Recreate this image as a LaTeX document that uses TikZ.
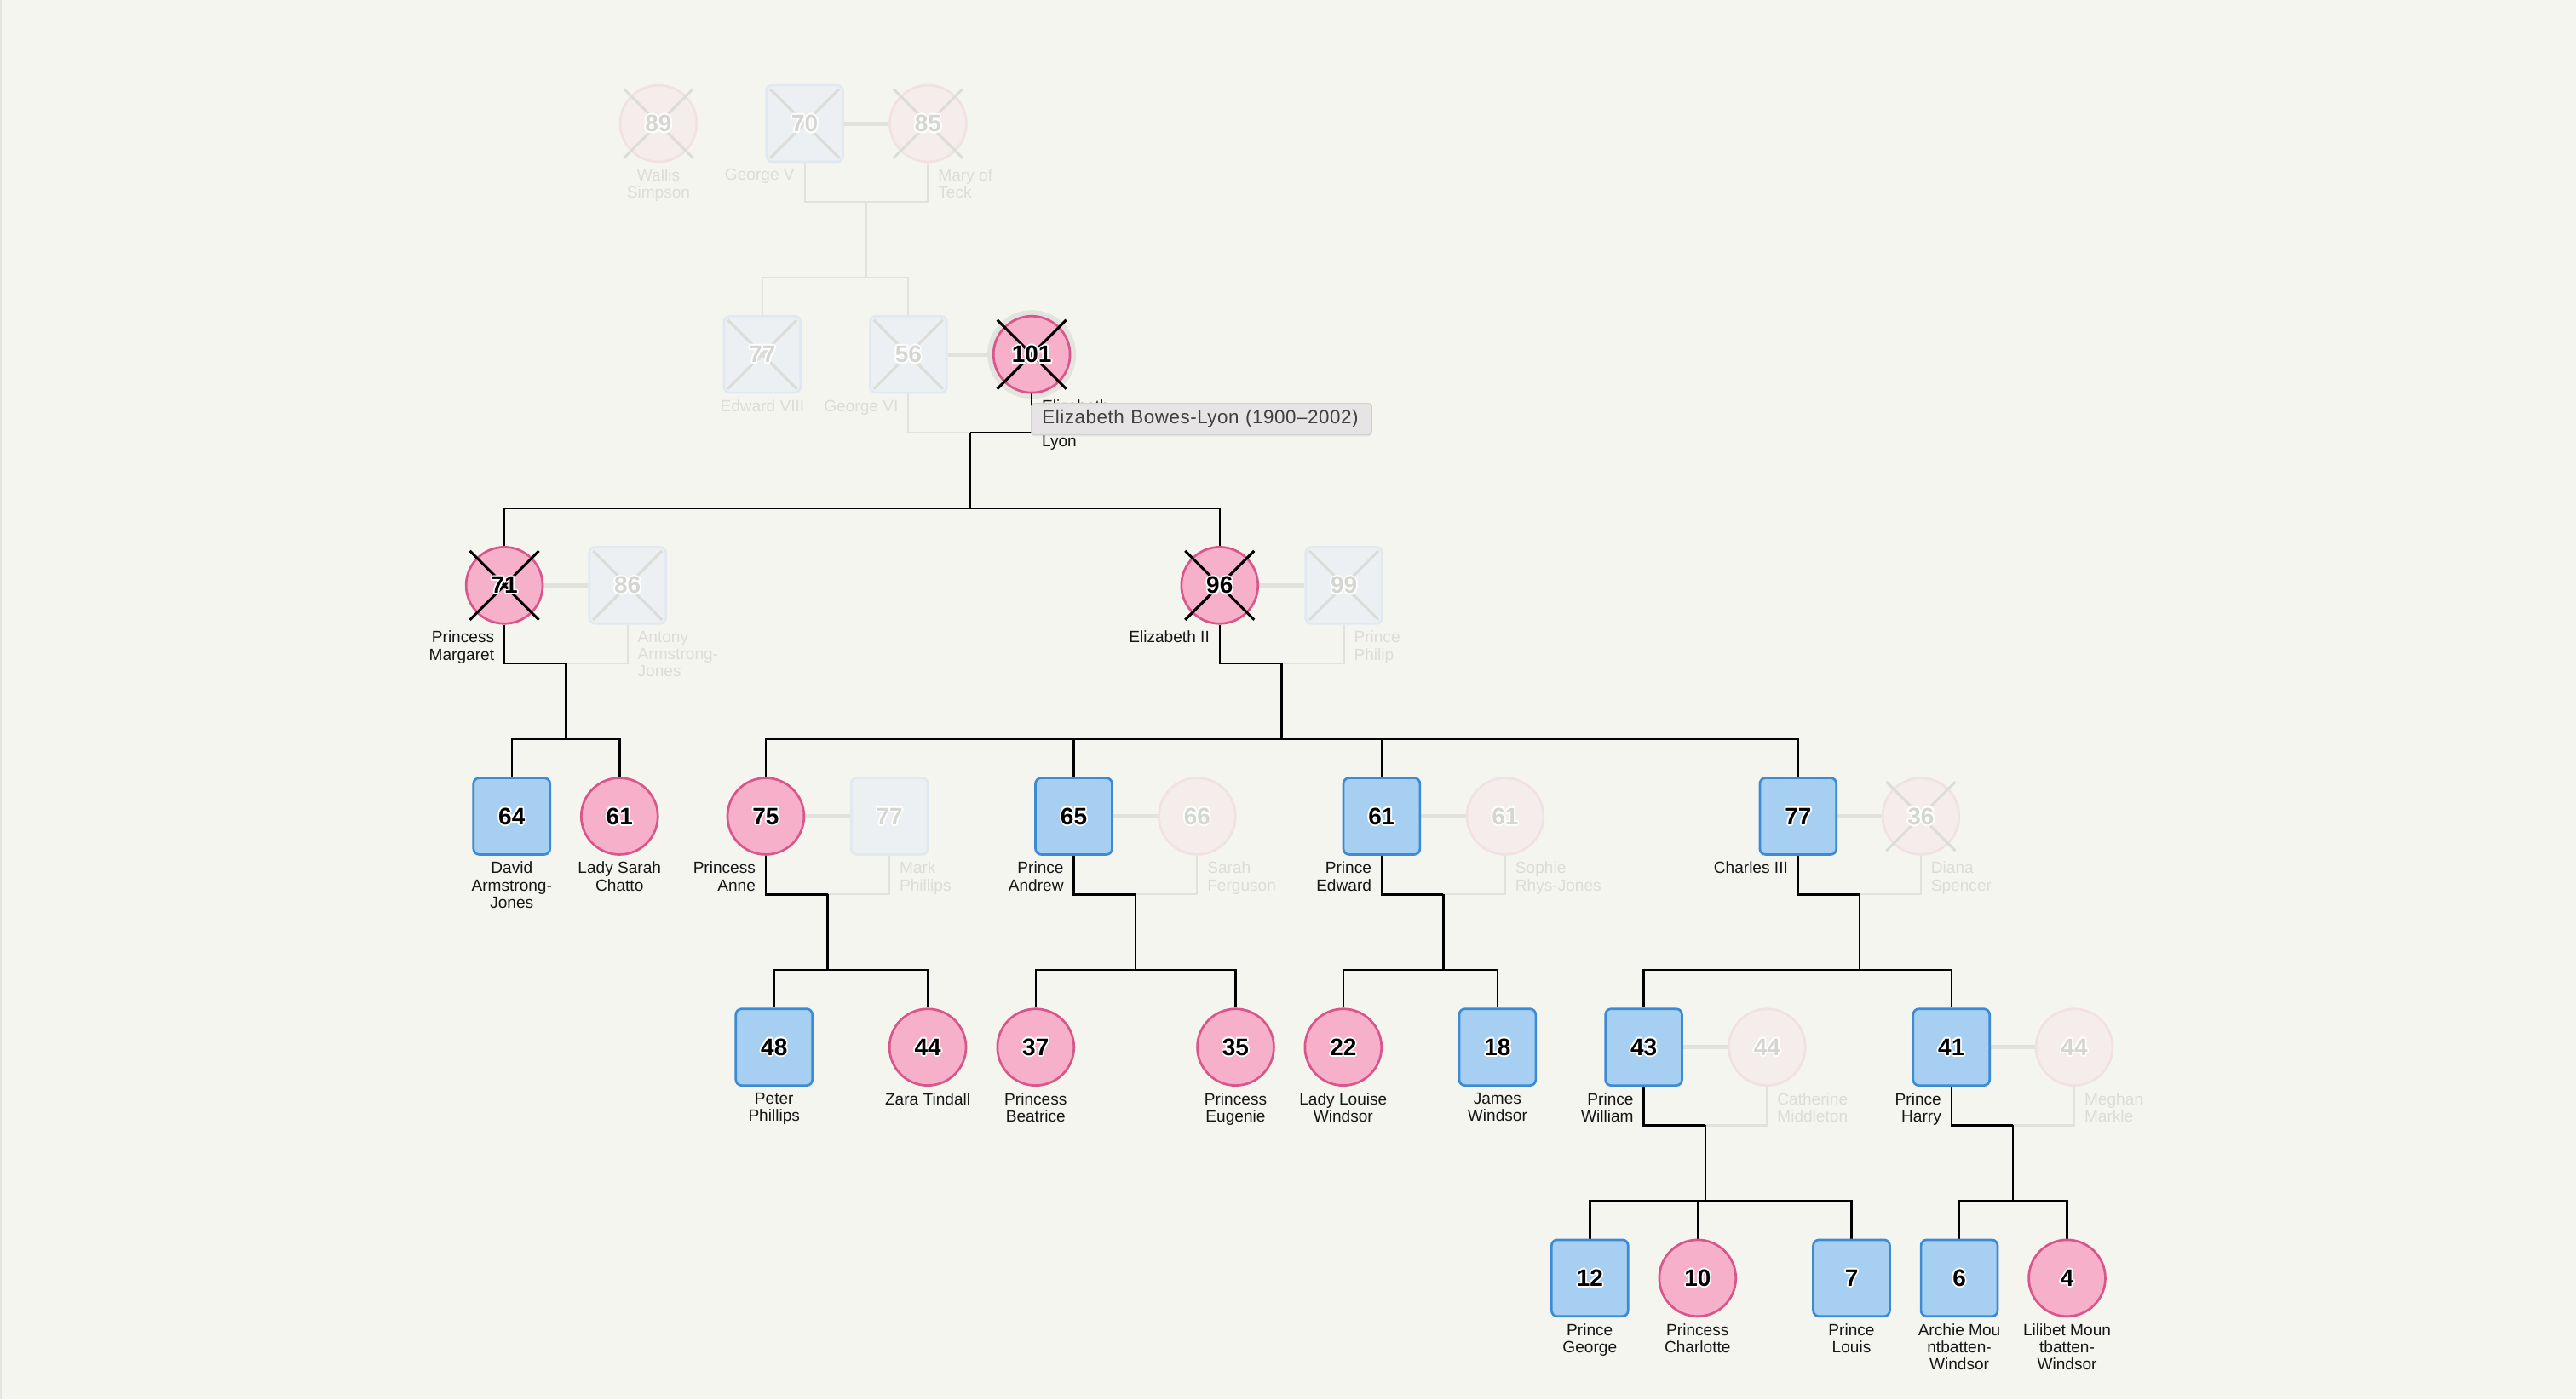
\documentclass[tikz,border=0pt]{standalone}
\usepackage{fontspec}
\setmainfont{Liberation Sans}
\usetikzlibrary{positioning,calc,shadows}
\definecolor{bgcol}{HTML}{F5F5F0}
\definecolor{edgecol}{HTML}{E4E4E0}
\definecolor{pinkfill}{HTML}{F7B0C9}
\definecolor{pinkedge}{HTML}{D9558A}
\definecolor{bluefill}{HTML}{A6CFF1}
\definecolor{blueedge}{HTML}{3D8BD4}
\definecolor{fpinkfill}{HTML}{F5ECEC}
\definecolor{fpinkedge}{HTML}{F1E1E3}
\definecolor{fbluefill}{HTML}{ECF0F2}
\definecolor{fblueedge}{HTML}{E1E9F0}
\definecolor{paleline}{HTML}{E2E2DD}
\definecolor{paletext}{HTML}{DCDCD8}
\definecolor{palenum}{HTML}{D5D5D1}
\definecolor{inkcol}{HTML}{161616}
\definecolor{tipfill}{HTML}{E6E4E4}
\definecolor{tipedge}{HTML}{D2D0D0}
\definecolor{tiptext}{HTML}{404040}
\definecolor{hovercol}{HTML}{E3E3DF}
\pgfdeclarelayer{background}
\pgfsetlayers{background,main}
\newcommand\halo[1]{{\color{white}\rlap{\kern1pt#1}\rlap{\kern-1pt#1}\rlap{\raisebox{1pt}{#1}}\rlap{\raisebox{-1pt}{#1}}\rlap{\kern.7pt\raisebox{.7pt}{#1}}\rlap{\kern-.7pt\raisebox{.7pt}{#1}}\rlap{\kern.7pt\raisebox{-.7pt}{#1}}\rlap{\kern-.7pt\raisebox{-.7pt}{#1}}}#1}

\begin{document}
\begin{tikzpicture}[x=1pt,y=-1pt,
  boy/.style={rectangle,rounded corners=3.5pt,minimum size=46.6pt,line width=1.4pt,inner sep=0pt},
  girl/.style={circle,minimum size=46.6pt,line width=1.4pt,inner sep=0pt},
  boy-on/.style={boy,fill=bluefill,draw=blueedge},
  boy-off/.style={boy,fill=fbluefill,draw=fblueedge},
  girl-on/.style={girl,fill=pinkfill,draw=pinkedge},
  girl-off/.style={girl,fill=fpinkfill,draw=fpinkedge},
  years/.style={font=\bfseries\fontsize{14.5}{14.5}\selectfont,inner sep=0pt},
  years-on/.style={years,text=black},
  years-off/.style={years,text=palenum},
  cross-on/.style={draw=black,line width=1.6pt},
  cross-off/.style={draw=paletext,line width=1.6pt},
  caption/.style={font=\fontsize{9.9}{10.5}\selectfont,inner sep=0pt},
  caption-l/.style={caption,anchor=north east,align=right,xshift=-6pt},
  caption-r/.style={caption,anchor=north west,align=left,xshift=6pt},
  caption-c/.style={caption,anchor=north,align=center},
  tone-on/.style={text=inkcol},
  tone-off/.style={text=paletext},
  kin/.style={draw=black,line width=1.3pt},
  pale/.style={draw=paleline,line width=1.1pt},
  wed/.style={draw=paleline,line width=2.6pt},
  tipbox/.style={fill=tipfill,draw=tipedge,line width=.5pt,rounded corners=2pt,text=tiptext,
    font=\fontsize{11.6}{12}\selectfont\addfontfeatures{LetterSpace=2.5},text width=194pt,
    inner xsep=6.7pt,align=left,minimum height=19.1pt,
    drop shadow={opacity=.15,shadow xshift=0pt,shadow yshift=-1pt}}]
  \useasboundingbox (0,0) rectangle (1568,852);
  \def\people{%
    wallis/400.8/0/girl/1/off/89/{Wallis\\Simpson}/c,%
    georgev/489.8/0/boy/1/off/70/{George V}/l,%
    mary/564.9/0/girl/1/off/85/{Mary of\\Teck}/r,%
    edwardviii/464/1/boy/1/off/77/{Edward VIII}/c,%
    georgevi/552.9/1/boy/1/off/56/{George VI}/l,%
    ebl/628/1/girl/1/on/101/{Elizabeth\\Bowes-\\Lyon}/r,%
    margaret/307/2/girl/1/on/71/{Princess\\Margaret}/l,%
    antony/382/2/boy/1/off/86/{Antony\\Armstrong-\\Jones}/r,%
    elizii/742.4/2/girl/1/on/96/{Elizabeth II}/l,%
    philip/818/2/boy/1/off/99/{Prince\\Philip}/r,%
    david/311.5/3/boy/0/on/64/{David\\Armstrong-\\Jones}/c,%
    sarah/377.1/3/girl/0/on/61/{Lady Sarah\\Chatto}/c,%
    anne/466.1/3/girl/0/on/75/{Princess\\Anne}/l,%
    mark/541.4/3/boy/0/off/77/{Mark\\Phillips}/r,%
    andrew/653.6/3/boy/0/on/65/{Prince\\Andrew}/l,%
    fergie/728.7/3/girl/0/off/66/{Sarah\\Ferguson}/r,%
    edward/841/3/boy/0/on/61/{Prince\\Edward}/l,%
    sophie/916.2/3/girl/0/off/61/{Sophie\\Rhys-Jones}/r,%
    charles/1094.5/3/boy/0/on/77/{Charles III}/l,%
    diana/1169.2/3/girl/1/off/36/{Diana\\Spencer}/r,%
    peter/471.2/4/boy/0/on/48/{Peter\\Phillips}/c,%
    zara/564.7/4/girl/0/on/44/{Zara Tindall}/c,%
    beatrice/630.4/4/girl/0/on/37/{Princess\\Beatrice}/c,%
    eugenie/752.1/4/girl/0/on/35/{Princess\\Eugenie}/c,%
    louise/817.6/4/girl/0/on/22/{Lady Louise\\Windsor}/c,%
    james/911.5/4/boy/0/on/18/{James\\Windsor}/c,%
    william/1000.5/4/boy/0/on/43/{Prince\\William}/l,%
    catherine/1075.6/4/girl/0/off/44/{Catherine\\Middleton}/r,%
    harry/1187.8/4/boy/0/on/41/{Prince\\Harry}/l,%
    meghan/1262.6/4/girl/0/off/44/{Meghan\\Markle}/r,%
    george/967.7/5/boy/0/on/12/{Prince\\George}/c,%
    charlotte/1033.3/5/girl/0/on/10/{Princess\\Charlotte}/c,%
    louis/1127/5/boy/0/on/7/{Prince\\Louis}/c,%
    archie/1192.6/5/boy/0/on/6/{Archie Mou\\ntbatten-\\Windsor}/c,%
    lilibet/1258.2/5/girl/0/on/4/{Lilibet Moun\\tbatten-\\Windsor}/c%
  }
  \foreach \id/\x/\lv/\sex/\dead/\st/\age/\lab/\side in \people {
    \pgfmathsetmacro{\y}{75.2+\lv*140.6}
    \node[\sex-\st] (\id) at (\x,\y) {};
    \ifnum\dead=1
      \draw[cross-\st] ($(\id)+(-21,-21)$) -- ($(\id)+(21,21)$)
                       ($(\id)+(-21,21)$) -- ($(\id)+(21,-21)$);
    \fi
    \node[years-\st] (\id-age) at (\id) {\halo{\age}};
    \node[caption-\side,tone-\st] (\id-name) at (\x,{\y+27.6}) {\lab};
  }
  \begin{pgfonlayer}{background}
    \fill[bgcol] (0,0) rectangle (1568,852);
    \fill[edgecol] (0,0) rectangle (1,852);
    \node[circle,fill=hovercol,minimum size=54pt,inner sep=0pt] (hover) at (ebl) {};
    \foreach \a/\b in {georgev/mary,georgevi/ebl,margaret/antony,elizii/philip,anne/mark,
                       andrew/fergie,edward/sophie,charles/diana,william/catherine,harry/meghan}
      \draw[wed] (\a) -- (\b);
    \foreach \pa/\pb/\blood/\kids in {georgev/mary/0/{edwardviii,georgevi},
        georgevi/ebl/2/{margaret,elizii},
        margaret/antony/1/{david,sarah},
        elizii/philip/1/{anne,andrew,edward,charles},
        anne/mark/1/{peter,zara},
        andrew/fergie/1/{beatrice,eugenie},
        edward/sophie/1/{louise,james},
        charles/diana/1/{william,harry},
        william/catherine/1/{george,charlotte,louis},
        harry/meghan/1/{archie,lilibet}} {
      \coordinate (drop) at ($(\pa.south)!.5!(\pb.south)+(0,23.6)$);
      \ifnum\blood=0
        \draw[pale] (\pa.south) |- (drop) -| (\pb.south);
        \def\kidline{pale}
      \else
        \ifnum\blood=1
          \draw[pale] (\pb.south) |- (drop);
          \draw[kin] (\pa.south) |- (drop);
        \else
          \draw[pale] (\pa.south) |- (drop);
          \draw[kin] (\pb.south) |- (drop);
        \fi
        \def\kidline{kin}
      \fi
      \foreach \k in \kids
        \draw[\kidline] (drop) |- ($(\k.north)+(0,-22.9)$) -- (\k.north);
    }
  \end{pgfonlayer}
  \node[tipbox,anchor=north west] (tooltip) at (627.4,245.3) {Elizabeth Bowes-Lyon (1900–2002)};
\end{tikzpicture}
\end{document}
